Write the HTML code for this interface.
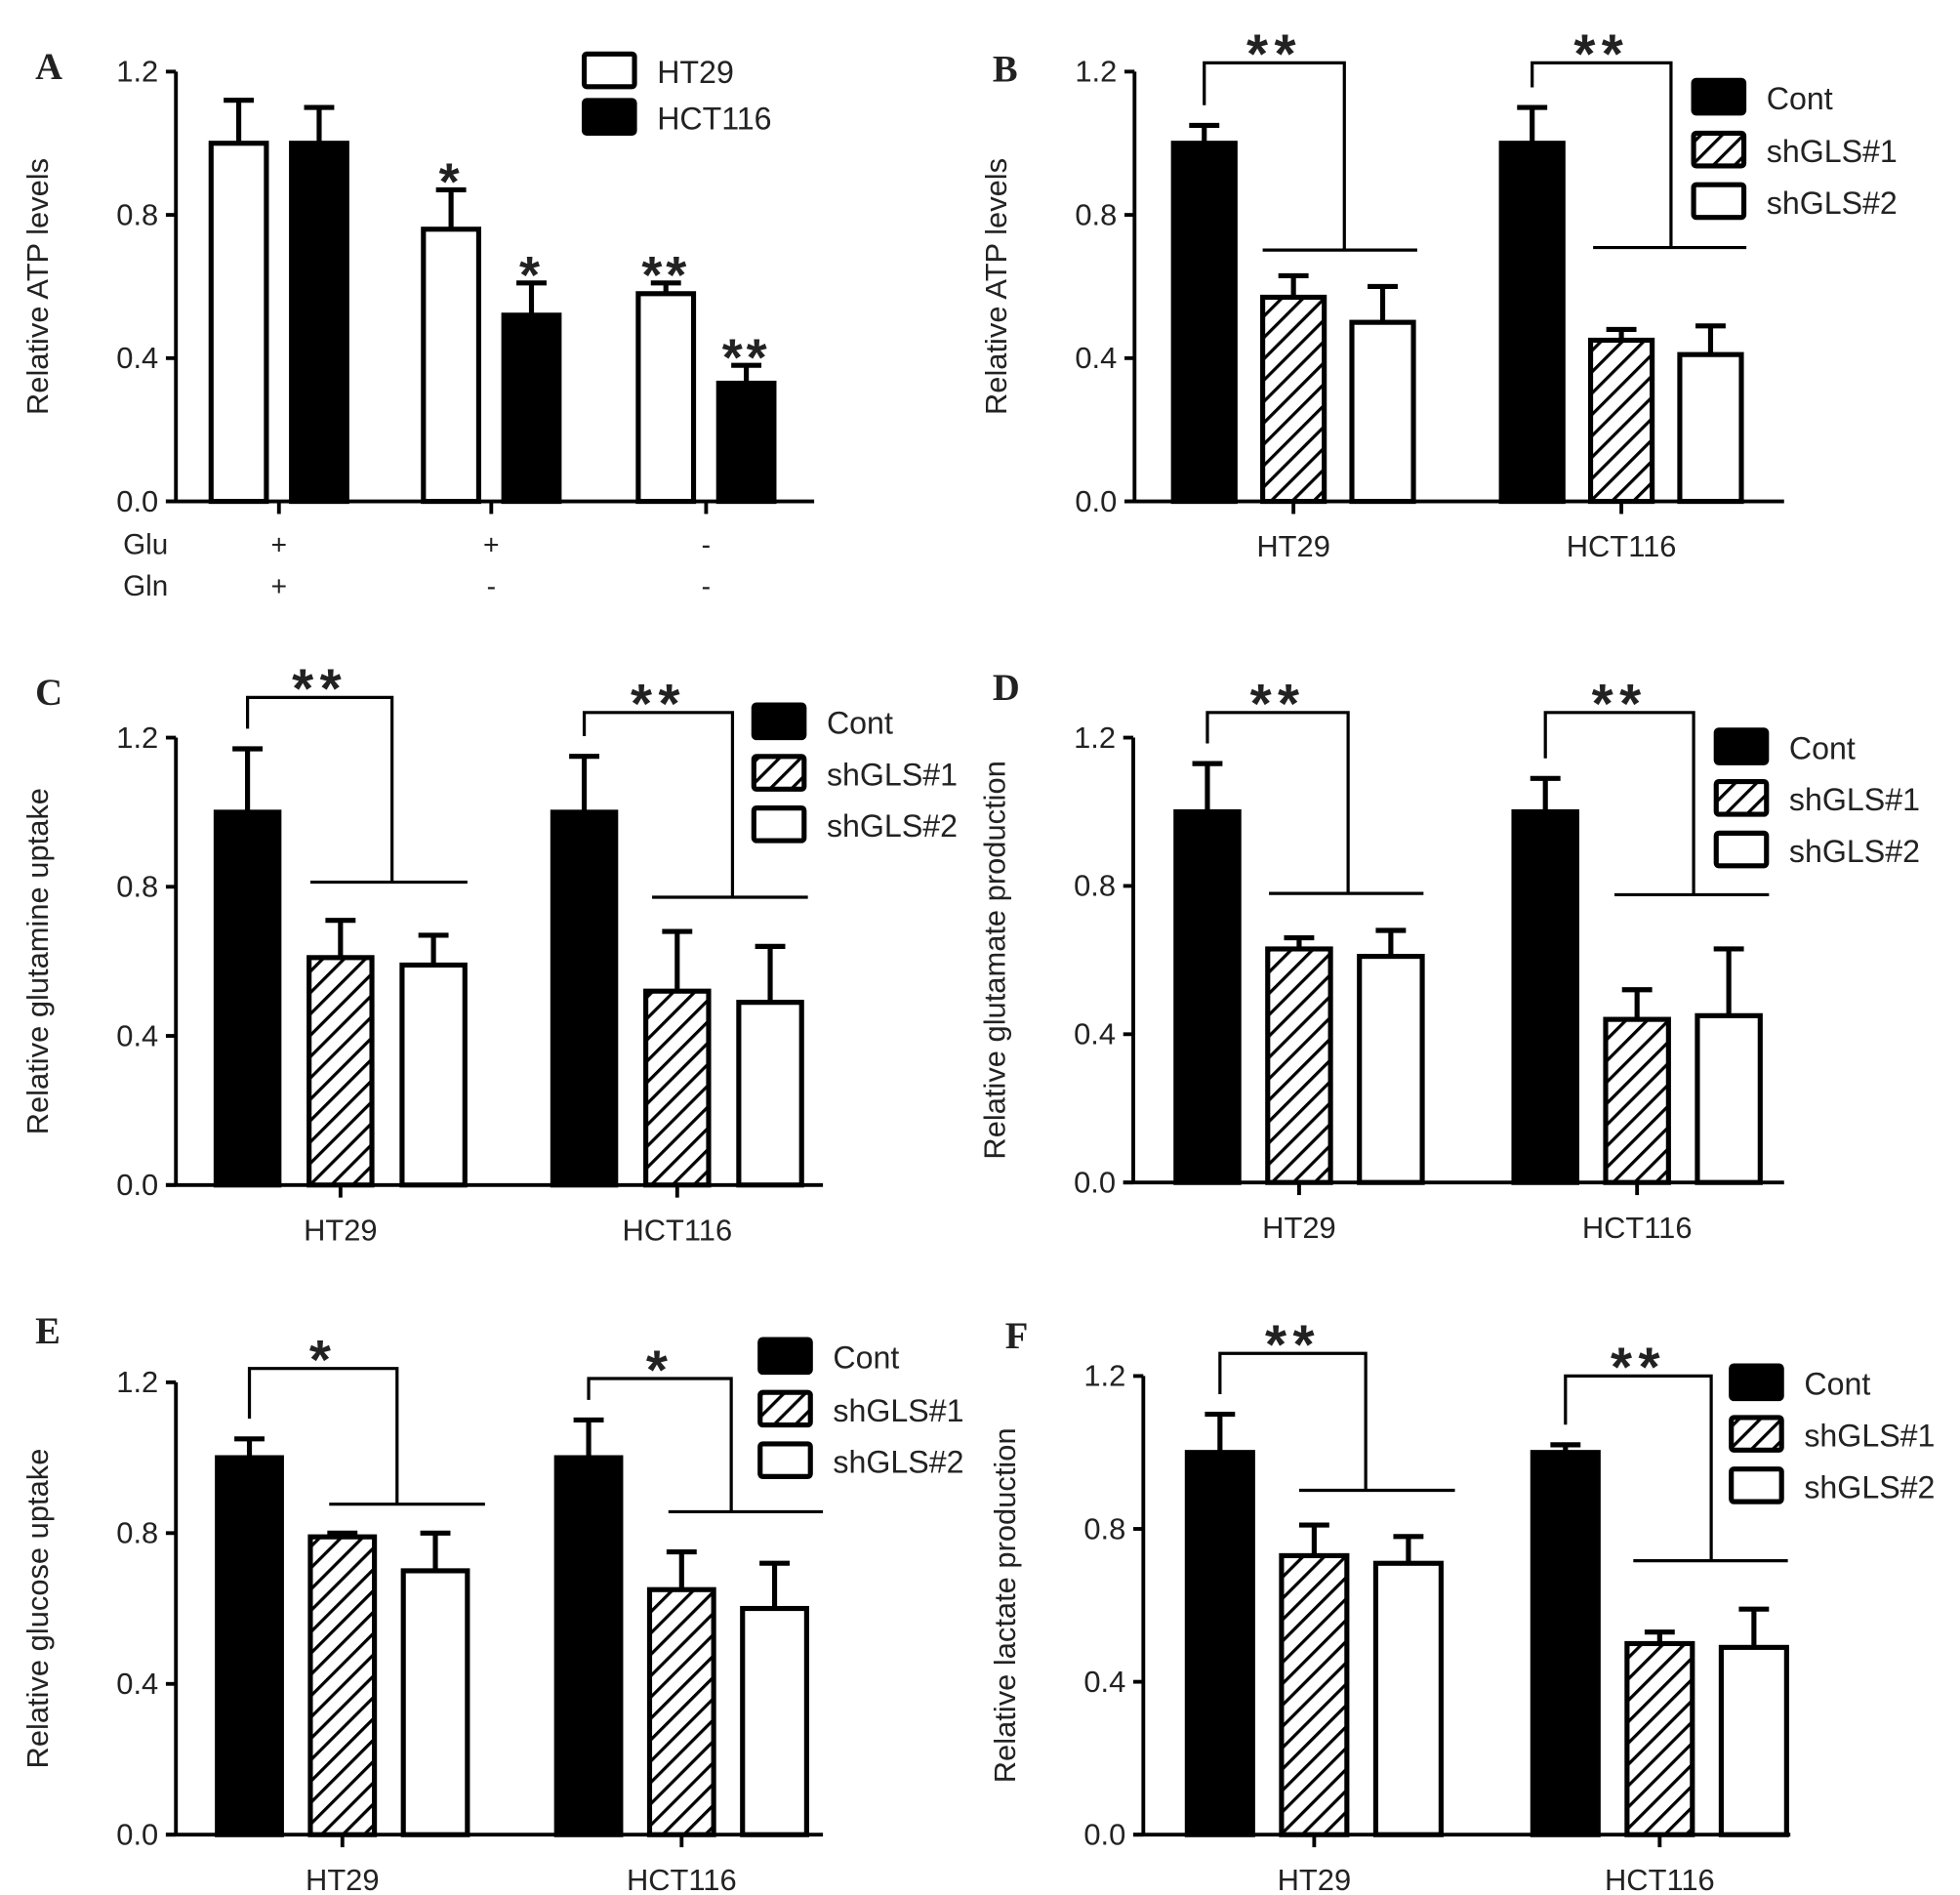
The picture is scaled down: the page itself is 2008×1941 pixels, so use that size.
<!DOCTYPE html>
<html><head><meta charset="utf-8"><style>
html,body{margin:0;padding:0;background:#fff}
svg{display:block}
text{font-family:"Liberation Sans",Arial,sans-serif;fill:#222}
</style></head><body>
<svg id="fig" width="2008" height="1941" viewBox="0 0 1560 1508" xmlns="http://www.w3.org/2000/svg">
<defs>
<pattern id="hatch" patternUnits="userSpaceOnUse" width="12" height="12" patternTransform="rotate(45)">
<rect width="12" height="12" fill="#fff"/><line x1="0" y1="0" x2="0" y2="12" stroke="#000" stroke-width="5"/>
</pattern>
</defs>
</svg>
<script>
// Panel A data
const aGroups=["+/+","+/-","-/-"];
const aHT29=[1.0,0.76,0.58];
const aHT29Err=[1.12,0.87,0.61];
const aHCT=[1.0,0.52,0.33];
const aHCTErr=[1.10,0.61,0.38];
const aStarsHT=["","*","**"];
const aStarsHCT=["","*","**"];
const yTicks=[0.0,0.4,0.8,1.2];
const yTickLabels=["0.0","0.4","0.8","1.2"];
const cells=["HT29","HCT116"];
const seriesNames=["Cont","shGLS#1","shGLS#2"];
// Panels B-F data: [HT29 Cont, sh1, sh2], [HCT116 Cont, sh1, sh2]
const bVals=[[1.0,0.57,0.50],[1.0,0.45,0.41]];
const bErr=[[1.05,0.63,0.60],[1.10,0.48,0.49]];
const cVals=[[1.0,0.61,0.59],[1.0,0.52,0.49]];
const cErr=[[1.17,0.71,0.67],[1.15,0.68,0.64]];
const dVals=[[1.0,0.63,0.61],[1.0,0.44,0.45]];
const dErr=[[1.13,0.66,0.68],[1.09,0.52,0.63]];
const eVals=[[1.0,0.79,0.70],[1.0,0.65,0.60]];
const eErr=[[1.05,0.80,0.80],[1.10,0.75,0.72]];
const fVals=[[1.0,0.73,0.71],[1.0,0.50,0.49]];
const fErr=[[1.10,0.81,0.78],[1.02,0.53,0.59]];

const svg=document.getElementById('fig');
const NS="http://www.w3.org/2000/svg";
function mk(tag,at,parent){const e=document.createElementNS(NS,tag);for(const k in at)e.setAttribute(k,at[k]);(parent||svg).appendChild(e);return e;}
function txt(x,y,s,size,anchor,parent,extra){const t=mk('text',Object.assign({x:x,y:y,'font-size':size,'text-anchor':anchor||'start'},extra||{}),parent);t.textContent=s;return t;}

function axes(g,L){
  const yS=v=>L.y0-(v/1.2)*(L.y0-L.y12);
  let ax=mk('line',{x1:L.ax,y1:L.y12,x2:L.ax,y2:L.y0,stroke:'#000','stroke-width':3},g);
  
  let xa=mk('line',{x1:L.ax-8,y1:L.y0,x2:L.xend,y2:L.y0,stroke:'#000','stroke-width':3},g);
  
  yTicks.forEach((v,i)=>{
    mk('line',{x1:L.ax-8,y1:yS(v),x2:L.ax,y2:yS(v),stroke:'#000','stroke-width':3},g);
    let t=txt(L.ax-14,yS(v)+8,yTickLabels[i],24,'end',g);
    
  });
  let yt=txt(0,0,L.ytitle,24,'middle',g,{transform:`translate(${L.ax-102},${(L.y0+L.y12)/2}) rotate(-90)`});
  
  let pl=txt(L.lx,L.ly,L.letter,30,'start',g,{'font-weight':'bold',style:'font-family:"Liberation Serif",serif'});
  
  return yS;
}
function bar(g,x,w,v,e,yS,fill,name){
  const r=mk('rect',{x:x,y:yS(v),width:w,height:yS(0)-yS(v),fill:fill,stroke:'#000','stroke-width':4},g);
  
  const c=x+w/2;
  mk('line',{x1:c,y1:yS(v),x2:c,y2:yS(e),stroke:'#000','stroke-width':4},g);
  mk('line',{x1:c-12,y1:yS(e),x2:c+12,y2:yS(e),stroke:'#000','stroke-width':4},g);
}
function legend(g,x,ys,items){
  items.forEach((it,i)=>{
    const r=mk('rect',{x:x,y:ys[i],width:40,height:26,fill:it.fill,stroke:'#000','stroke-width':4,rx:2},g);
    
    const t=txt(x+58,ys[i]+23,it.name,25,'start',g);
    
  });
}

// Panel A
(function(){
  const g=mk('g',{});
  const L={ax:140,xend:648,y12:57,y0:399,ytitle:'Relative ATP levels',letter:'A',lx:28,ly:63};
  const yS=axes(g,L);
  const gx=[168,337,508];const W=44;
  aGroups.forEach((gr,i)=>{
    bar(g,gx[i],W,aHT29[i],aHT29Err[i],yS,'#fff','bar-ht29-'+i);
    bar(g,gx[i]+64,W,aHCT[i],aHCTErr[i],yS,'#000','bar-hct116-'+i);
    if(aStarsHT[i]){let t=txt(gx[i]+W/2,yS(aHT29Err[i])+8,aStarsHT[i],42,'middle',g,{'font-weight':'bold','letter-spacing':'3'});}
    if(aStarsHCT[i]){let t=txt(gx[i]+64+W/2,yS(aHCTErr[i])+8,aStarsHCT[i],42,'middle',g,{'font-weight':'bold','letter-spacing':'3'});}
    const cx=gx[i]+54;
    mk('line',{x1:cx,y1:L.y0,x2:cx,y2:L.y0+10,stroke:'#000','stroke-width':3},g);
    const p=gr.split('/');
    txt(cx,441,p[0],22,'middle',g);txt(cx,474,p[1],22,'middle',g);
  });
  txt(98,441,'Glu',23,'start',g);txt(98,474,'Gln',23,'start',g);
  legend(g,465,[43,80],[{fill:'#fff',name:'HT29'},{fill:'#000',name:'HCT116'}]);
})();

function grouped(cfg){
  const g=mk('g',{});
  const yS=axes(g,cfg.L);
  const fills=['#000','url(#hatch)','#fff'];
  cfg.vals.forEach((gv,gi)=>{
    const x0=cfg.gx[gi];
    gv.forEach((v,si)=>bar(g,x0+si*cfg.step,cfg.W,v,cfg.err[gi][si],yS,fills[si],'bar-'+cells[gi].toLowerCase()+'-'+seriesNames[si].toLowerCase().replace('#','')));
    const tc=x0+cfg.step+cfg.W/2;
    mk('line',{x1:tc,y1:cfg.L.y0,x2:tc,y2:cfg.L.y0+10,stroke:'#000','stroke-width':3},g);
    let cl=txt(tc,cfg.L.y0+44,cells[gi],24,'middle',g);
    const br=cfg.br[gi];const cc=x0+cfg.W/2;
    mk('polyline',{points:`${cc},${yS(cfg.err[gi][0])-16} ${cc},${br.top} ${br.right},${br.top} ${br.right},${br.low}`,fill:'none',stroke:'#000','stroke-width':2.5},g);
    mk('line',{x1:br.hl,y1:br.low,x2:br.hr,y2:br.low,stroke:'#000','stroke-width':2.5},g);
    let st=txt((cc+br.right)/2,br.top+8,cfg.star,44,'middle',g,{'font-weight':'bold','letter-spacing':'5'});
    
  });
  legend(g,cfg.lgx,cfg.lgy,seriesNames.map((n,i)=>({fill:fills[i],name:n})));
}
grouped({name:'panel-b',L:{ax:903,xend:1420,y12:57,y0:399,ytitle:'Relative ATP levels',letter:'B',lx:790,ly:65},
  vals:bVals,err:bErr,gx:[934,1195],step:71,W:49,star:'**',
  br:[{top:50,right:1070,low:199,hl:1005,hr:1128},{top:50,right:1330,low:197,hl:1268,hr:1390}],
  lgx:1348,lgy:[64,106,147]});
grouped({name:'panel-c',L:{ax:140,xend:655,y12:587,y0:943,ytitle:'Relative glutamine uptake',letter:'C',lx:28,ly:561},
  vals:cVals,err:cErr,gx:[172,440],step:74,W:50,star:'**',
  br:[{top:555,right:312,low:702,hl:247,hr:372},{top:567,right:583,low:714,hl:519,hr:643}],
  lgx:600,lgy:[561,602,643]});
grouped({name:'panel-d',L:{ax:902,xend:1420,y12:587,y0:941,ytitle:'Relative glutamate production',letter:'D',lx:790,ly:557},
  vals:dVals,err:dErr,gx:[936,1205],step:73,W:50,star:'**',
  br:[{top:567,right:1073,low:711,hl:1010,hr:1133},{top:567,right:1348,low:712,hl:1285,hr:1408}],
  lgx:1366,lgy:[581,622,663]});
grouped({name:'panel-e',L:{ax:140,xend:655,y12:1100,y0:1460,ytitle:'Relative glucose uptake',letter:'E',lx:28,ly:1069},
  vals:eVals,err:eErr,gx:[173,443],step:74,W:51,star:'*',
  br:[{top:1089,right:316,low:1197,hl:262,hr:386},{top:1097,right:582,low:1203,hl:532,hr:655}],
  lgx:605,lgy:[1066,1108,1149]});
grouped({name:'panel-f',L:{ax:910,xend:1425,y12:1095,y0:1460,ytitle:'Relative lactate production',letter:'F',lx:800,ly:1073},
  vals:fVals,err:fErr,gx:[945,1220],step:75,W:52,star:'**',
  br:[{top:1077,right:1087,low:1186,hl:1034,hr:1158},{top:1095,right:1362,low:1242,hl:1300,hr:1423}],
  lgx:1378,lgy:[1087,1128,1169]});
</script>
</body></html>
